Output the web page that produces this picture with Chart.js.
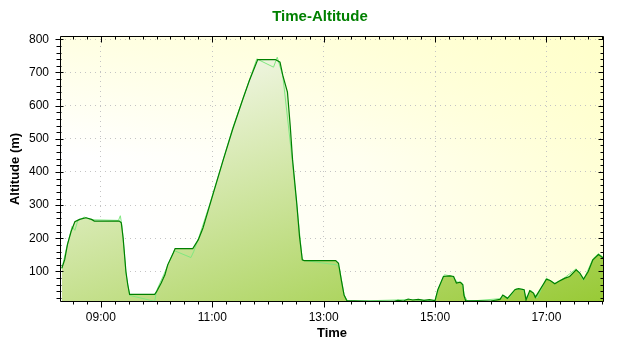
<!DOCTYPE html>
<html>
<head>
<meta charset="utf-8">
<script src="https://cdn.jsdelivr.net/npm/chart.js@4.4.1/dist/chart.umd.min.js"></script>
<style>
html, body { margin: 0; padding: 0; background: #fff; }
</style>
</head>
<body>
<canvas id="chart-alt" width="640" height="350"></canvas>
<script>
// time in minutes since midnight, altitude in metres
var trackTime = [498, 501, 504, 508, 512, 517, 524, 530, 533, 560, 562, 564, 565.5, 567, 569, 571, 598, 600, 605, 609,
    612, 618, 620, 639, 645, 650, 657, 672, 682, 693, 700, 709, 728, 733, 736, 741, 744, 746.5, 751, 754,
    757, 759, 793, 796, 799, 802, 805, 830, 856, 860, 866, 871, 876, 882, 888, 894, 900, 903, 909, 916,
    920, 923, 927, 930, 931, 933, 960, 970, 973, 978, 986, 990, 996, 998, 1002, 1006, 1008, 1020, 1024, 1029,
    1033, 1040, 1045, 1052, 1056, 1060, 1065, 1070, 1076, 1079, 1082];
var trackAlt = [110, 135, 181, 221, 250, 257, 262, 257, 252, 252, 247, 201, 151, 100, 60, 31, 31, 39, 65, 90,
    120, 156, 169, 169, 196, 231, 297, 438, 529, 620, 676, 739, 739, 731, 691, 641, 539, 438, 307, 206,
    135, 133, 133, 125, 75, 29, 12, 10, 10, 13, 11, 17, 14, 16, 13, 15, 12, 45, 85, 87,
    85, 65, 68, 60, 29, 12, 11, 16, 29, 19, 45, 48, 45, 14, 42, 35, 22, 77, 73, 63,
    70, 80, 85, 105, 95, 77, 100, 135, 151, 145, 138];

var rawTime = [498, 503, 509, 512, 515, 522, 530, 559, 561, 563, 567, 571, 598, 600, 608, 619, 637, 640, 645, 657,
    682, 708, 726, 730, 736, 746, 757, 794, 797, 802, 806, 870, 900, 904, 910, 918, 924, 929, 932, 935,
    970, 975, 979, 987, 995, 999, 1003, 1007, 1010, 1020, 1029, 1040, 1052, 1060, 1070, 1076, 1082];
var rawAlt = [108, 170, 236, 224, 252, 264, 256, 254, 268, 232, 95, 28, 10, 42, 92, 163, 142, 160, 198, 300,
    532, 741, 716, 746, 690, 440, 134, 120, 110, 30, 10, 15, 12, 50, 90, 86, 68, 66, 25, 10,
    18, 27, 18, 48, 46, 18, 44, 32, 20, 80, 64, 82, 108, 74, 138, 154, 141];

var xTicks = [540, 660, 780, 900, 1020];
var yTicks = [100, 200, 300, 400, 500, 600, 700, 800];

function toPoints(xs, ys) {
    var pts = [];
    for (var i = 0; i < xs.length; i++) pts.push({x: xs[i], y: ys[i]});
    return pts;
}

function hhmm(v) {
    var h = Math.floor(v / 60), m = Math.round(v % 60);
    return (h < 10 ? '0' : '') + h + ':' + (m < 10 ? '0' : '') + m;
}

var frame = {
    id: 'frame',
    beforeDraw: function (chart) {
        var a = chart.chartArea, c = chart.ctx;
        var g = c.createLinearGradient(a.left + 120, a.bottom, a.right, a.top);
        g.addColorStop(0, '#FFFFFF');
        g.addColorStop(0.45, '#FFFFF0');
        g.addColorStop(1, '#FFFFCC');
        c.save();
        c.fillStyle = g;
        c.fillRect(a.left, a.top, a.right - a.left, a.bottom - a.top);
        // faint yellow wash along the top edge
        var v = c.createLinearGradient(0, a.top, 0, a.top + 120);
        v.addColorStop(0, 'rgba(255,255,200,0.5)');
        v.addColorStop(1, 'rgba(255,255,200,0)');
        c.fillStyle = v;
        c.fillRect(a.left, a.top, a.right - a.left, 120);
        c.restore();
    },
    afterDraw: function (chart) {
        var a = chart.chartArea, c = chart.ctx;
        var xs = chart.scales.x, ys = chart.scales.y;
        var L = Math.round(a.left) + 0.5, R = Math.round(a.right) - 0.5;
        var T = Math.round(a.top) + 0.5, B = Math.round(a.bottom) - 0.5;
        c.save();
        c.strokeStyle = '#000';
        c.lineWidth = 1;
        c.beginPath();
        c.rect(L, T, R - L, B - T);
        // x ticks every 15 min
        for (var t = Math.ceil(xs.min / 15) * 15; t <= xs.max; t += 15) {
            var px = Math.round(xs.getPixelForValue(t)) + 0.5;
            var major = (t % 120) === 60;
            var len = major ? 6 : 3;
            c.moveTo(px, B); c.lineTo(px, B + len);
            c.moveTo(px, T); c.lineTo(px, T + len);
        }
        // y ticks every 20 m
        for (var v = 20; v <= ys.max; v += 20) {
            var py = Math.round(ys.getPixelForValue(v)) + 0.5;
            var maj = (v % 100) === 0;
            c.moveTo(L - (maj ? 5 : 4), py); c.lineTo(L + (maj ? 3 : 1), py);
            c.moveTo(R, py); c.lineTo(R - (maj ? 5 : 3), py);
        }
        c.stroke();
        c.restore();
    }
};

var ctx = document.getElementById('chart-alt').getContext('2d');
var altChart = new Chart(ctx, {
    type: 'line',
    data: {
        datasets: [{
            label: 'Altitude',
            data: toPoints(trackTime, trackAlt),
            borderColor: '#008000',
            borderWidth: 1.2,
            pointRadius: 0,
            tension: 0,
            fill: 'start',
            backgroundColor: function (context) {
                var a = context.chart.chartArea;
                if (!a) return 'rgba(0,0,0,0)';
                var g = context.chart.ctx.createLinearGradient(a.left - 19, a.top + 79, a.left + 104, a.top + 423);
                g.addColorStop(0, '#F3F7E8');
                g.addColorStop(1, '#98CA36');
                return g;
            }
        }, {
            label: 'Raw',
            data: toPoints(rawTime, rawAlt),
            borderColor: '#80E880',
            borderWidth: 1,
            pointRadius: 0,
            tension: 0,
            fill: false
        }]
    },
    options: {
        responsive: false,
        maintainAspectRatio: false,
        animation: false,
        layout: { padding: 0 },
        plugins: {
            legend: { display: false },
            tooltip: { enabled: false },
            filler: { drawTime: 'beforeDatasetsDraw' },
            title: {
                display: true,
                text: 'Time-Altitude',
                color: '#008000',
                font: { family: 'Liberation Sans, Arial, sans-serif', size: 15, weight: 'bold', lineHeight: 1.2 },
                padding: { top: 8, bottom: 10 }
            }
        },
        scales: {
            x: {
                type: 'linear',
                min: 496,
                max: 1082,
                afterBuildTicks: function (scale) {
                    scale.ticks = xTicks.map(function (v) { return {value: v}; });
                },
                afterFit: function (scale) { scale.height = 48; },
                ticks: {
                    color: '#000',
                    padding: 8,
                    maxRotation: 0,
                    autoSkip: false,
                    font: { family: 'Liberation Sans, Arial, sans-serif', size: 12 },
                    callback: function (v) { return hhmm(v); }
                },
                grid: { color: '#C4C4C4', drawTicks: false, tickLength: 0 },
                border: { display: false, dash: [1, 4] },
                title: {
                    display: true,
                    text: 'Time',
                    color: '#000',
                    font: { family: 'Liberation Sans, Arial, sans-serif', size: 13, weight: 'bold' },
                    padding: { top: 0, bottom: 9 }
                }
            },
            y: {
                min: 8,
                max: 810,
                afterBuildTicks: function (scale) {
                    scale.ticks = yTicks.map(function (v) { return {value: v}; });
                },
                afterFit: function (scale) { scale.width = 60; },
                ticks: {
                    color: '#000',
                    padding: 11,
                    font: { family: 'Liberation Sans, Arial, sans-serif', size: 12 }
                },
                grid: { color: '#C4C4C4', drawTicks: false, tickLength: 0 },
                border: { display: false, dash: [1, 4] },
                title: {
                    display: true,
                    text: 'Altitude (m)',
                    color: '#000',
                    font: { family: 'Liberation Sans, Arial, sans-serif', size: 13, weight: 'bold' },
                    padding: { top: 8, bottom: 0 }
                }
            },
            yRight: {
                position: 'right',
                min: 8,
                max: 810,
                afterFit: function (scale) { scale.width = 36; },
                ticks: { display: false },
                grid: { display: false },
                border: { display: false }
            }
        }
    },
    plugins: [frame]
});
</script>
</body>
</html>
